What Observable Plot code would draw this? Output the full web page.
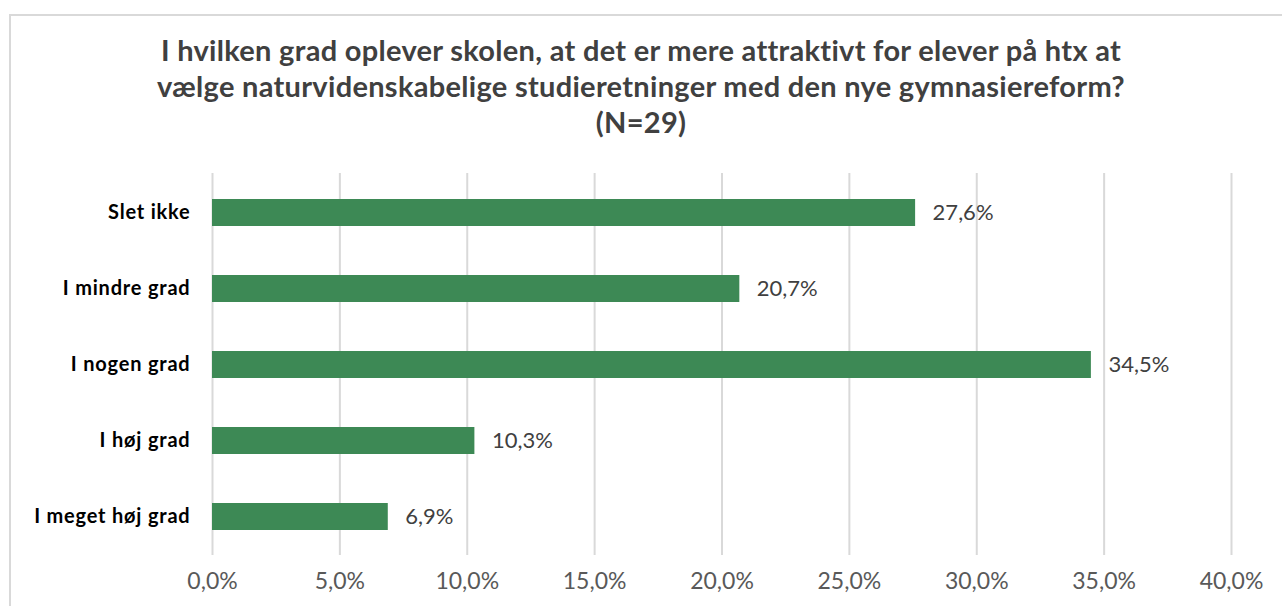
<!DOCTYPE html>
<html>
<head>
<meta charset="utf-8">
<script src="https://cdn.jsdelivr.net/npm/d3@7"></script>
<script src="https://cdn.jsdelivr.net/npm/@observablehq/plot@0.6"></script>
<style>
  html, body { margin: 0; padding: 0; background: #fff; width: 1282px; height: 606px; overflow: hidden; }
  #frame { position: absolute; left: 9px; top: 14px; width: 1300px; height: 620px; border: 2px solid #d9d9d9; box-sizing: border-box; }
  #title { position: absolute; left: 0; top: 32px; width: 1282px; text-align: center; font-family: Lato, sans-serif; font-weight: 700; font-size: 29px; letter-spacing: 0.3px; line-height: 36px; color: #404040; }
  #chart { position: absolute; left: 0; top: 140px; }
</style>
</head>
<body>
<div id="frame"></div>
<div id="title">I hvilken grad oplever skolen, at det er mere attraktivt for elever på htx at<br>vælge naturvidenskabelige studieretninger med den nye gymnasiereform?<br>(N=29)</div>
<div id="chart"></div>
<script>
const categories = ["Slet ikke", "I mindre grad", "I nogen grad", "I høj grad", "I meget høj grad"];
const values = [27.6, 20.7, 34.5, 10.3, 6.9];
const xTicks = [0, 5, 10, 15, 20, 25, 30, 35, 40];

const data = categories.map((c, i) => ({category: c, value: values[i]}));
const fmt = d => d.toFixed(1).replace(".", ",") + "%";

const chart = Plot.plot({
  width: 1282,
  height: 466,
  marginLeft: 212,
  marginRight: 51,
  marginTop: 33,
  marginBottom: 51,
  style: {fontFamily: "Lato, sans-serif", background: "transparent"},
  x: {domain: [0, 40], ticks: xTicks, tickFormat: fmt, label: null, tickSize: 0, tickPadding: 20},
  y: {domain: categories, paddingInner: 0.647, paddingOuter: 0.32, label: null, tickSize: 0, tickPadding: 22},
  marks: [
    Plot.ruleX(xTicks, {stroke: "#d9d9d9", strokeWidth: 2}),
    Plot.barX(data, {x: "value", y: "category", fill: "#3d8955"}),
    Plot.text(data, {x: "value", y: "category", text: d => fmt(d.value), textAnchor: "start", dx: 17, fontSize: 22, fill: "#404040"}),
    Plot.axisX({ticks: xTicks, tickFormat: fmt, tickSize: 0, tickPadding: 17, fontSize: 23, color: "#595959", label: null}),
    Plot.axisY({tickSize: 0, tickPadding: 22, fontSize: 20, fontWeight: 700, color: "#000", label: null})
  ]
});
chart.querySelectorAll("[aria-label='y-axis tick label']").forEach(e => e.setAttribute("letter-spacing", "0.8"));
document.getElementById("chart").appendChild(chart);
</script>
</body>
</html>
